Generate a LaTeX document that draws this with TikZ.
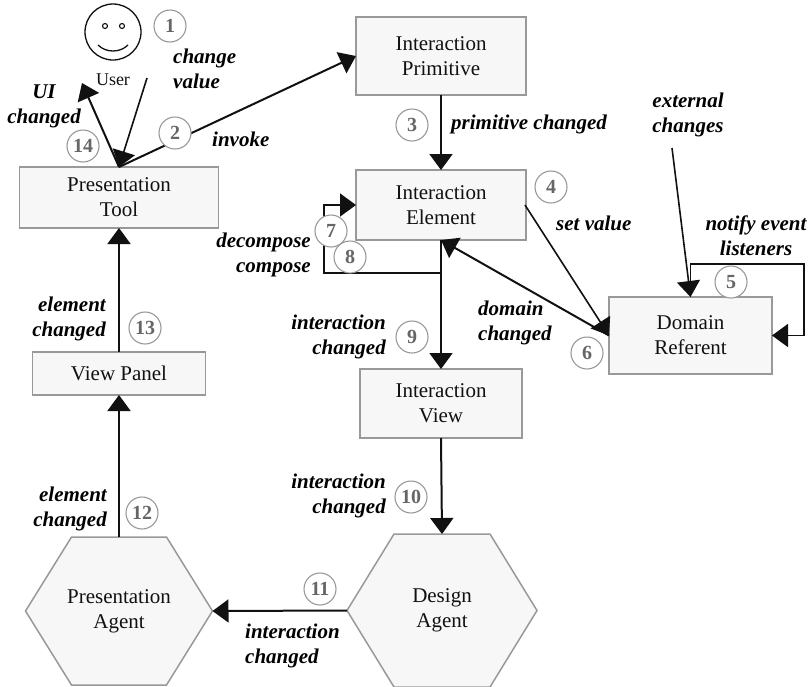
\documentclass[tikz,border=0pt]{standalone}
\usepackage{fontspec}
\setmainfont{Liberation Serif}
\usetikzlibrary{arrows.meta,backgrounds}
\definecolor{boxfill}{HTML}{F7F7F7}
\definecolor{boxline}{HTML}{999999}
\definecolor{numgrey}{HTML}{666666}
\definecolor{ink}{HTML}{111111}
\tikzset{
  x=1pt,y=-1pt,
  tip/.tip={Triangle[length=16pt,width=23pt]},
  conn/.style={draw=ink,line width=2pt,-tip},
  thinconn/.style={draw=ink,line width=1.6pt,-tip},
  boxbase/.style={inner sep=0pt,outer sep=0pt,align=center,text=ink,font=\fontsize{21}{25}\selectfont},
  hexoutline/.style={draw=boxline,fill=boxfill,line width=1.5pt,line join=miter},
  wbox/.style n args={2}{boxbase,draw=boxline,fill=boxfill,line width=1.5pt,rectangle,minimum width=#1pt,minimum height=#2pt},
  hexnode/.style n args={2}{boxbase,rectangle,minimum width=#1pt,minimum height=#2pt},
  lab/.style={inner sep=0pt,text=black,font=\fontsize{21}{25}\selectfont\bfseries\itshape},
  labL/.style={lab,anchor=west,align=left},
  labR/.style={lab,anchor=east,align=right},
  labC/.style={lab,anchor=center,align=center},
  num/.style={circle,draw=boxline,fill=white,line width=1.1pt,minimum size=32pt,inner sep=0pt,text=numgrey,
    font=\fontsize{20}{20}\selectfont\bfseries},
}
\begin{document}
\begin{tikzpicture}
\useasboundingbox (0,0) rectangle (808,686);
% boxes
\node[wbox={170}{78}] (prim) at (441,56) {Interaction\\Primitive};
\node[wbox={199}{61}] (tool) at (119,197.5) {Presentation\\Tool};
\node[wbox={170}{70}] (elem) at (441,205) {Interaction\\Element};
\node[wbox={162}{69}] (view) at (441,403.5) {Interaction\\View};
\node[wbox={173}{43}] (panel) at (119,373.5) {View Panel};
\node[wbox={163}{77}] (domain) at (690.5,335.5) {Domain\\Referent};
\node[hexnode={187}{148}] (pagent) at (119,611) {Presentation\\Agent};
\node[hexnode={190}{153}] (dagent) at (442,610.5) {Design\\Agent};
\begin{scope}[on background layer]
\draw[hexoutline] (pagent.west) -- ([xshift=46pt]pagent.north west) -- ([xshift=-46pt]pagent.north east) -- (pagent.east)
  -- ([xshift=-46pt]pagent.south east) -- ([xshift=46pt]pagent.south west) -- cycle;
\draw[hexoutline] (dagent.west) -- ([xshift=47pt]dagent.north west) -- ([xshift=-47pt]dagent.north east) -- (dagent.east)
  -- ([xshift=-47pt]dagent.south east) -- ([xshift=47pt]dagent.south west) -- cycle;
\end{scope}
% user
\node[circle,draw=ink,line width=1.3pt,minimum size=56pt,inner sep=0pt] (face) at (113,32) {};
\node[circle,draw=ink,line width=1.1pt,minimum size=5pt,inner sep=0pt] (eyeL) at (105,26) {};
\node[circle,draw=ink,line width=1.1pt,minimum size=5pt,inner sep=0pt] (eyeR) at (122,26) {};
\coordinate (smileL) at (98,45);
\coordinate (smileR) at (128,45);
\draw[draw=ink,line width=1.3pt] (smileL) .. controls (106,53) and (120,53) .. (smileR);
\node[inner sep=0pt,text=ink,font=\fontsize{18}{20}\selectfont] (user) at (113,80) {User};
% free ends
\coordinate (uiEnd) at (82,83);
\coordinate (changeStart) at (147,78);
\coordinate (extStart) at (672,148);
\coordinate (junction) at (441,273);
\coordinate (loopA) at (324,273);
\coordinate (loopB) at (324,205);
\coordinate (notA) at (690.5,264);
\coordinate (notB) at (804,264);
\coordinate (notC) at (804,335.5);
\coordinate (setStart) at (525,205);
% connectors
\draw[conn] (tool.north) -- (uiEnd);
\draw[thinconn] (changeStart) -- (tool.north);
\draw[conn] (tool.north) -- (prim.west);
\draw[conn] (prim.south) -- (elem.north);
\draw[conn] (elem.south) -- (view.north);
\draw[thinconn] (junction) -- (loopA) -- (loopB) -- (elem.west);
\draw[conn] (domain.west) -- (elem.south);
\draw[thinconn] (setStart) -- (domain.west);
\draw[thinconn] (extStart) -- (domain.north);
\draw[thinconn] (domain.north) -- (notA) -- (notB) -- (notC) -- (domain.east);
\draw[conn] (view.south) -- (dagent.north);
\draw[conn] (dagent.west) -- (pagent.east);
\draw[conn] (pagent.north) -- (panel.south);
\draw[conn] (panel.north) -- (tool.south);
% numbers
\node[num] (n1) at (170,26) {1};
\node[num] (n2) at (175,133) {2};
\node[num] (n3) at (412,125) {3};
\node[num] (n4) at (551,187) {4};
\node[num] (n5) at (731,282) {5};
\node[num] (n6) at (587,353) {6};
\node[num] (n8) at (350,257) {8};
\node[num] (n7) at (331,231) {7};
\node[num] (n9) at (412,337) {9};
\node[num] (n10) at (411,497) {10};
\node[num] (n11) at (320,589) {11};
\node[num] (n12) at (142,513) {12};
\node[num] (n13) at (145,328) {13};
\node[num] (n14) at (83,146) {14};
% labels
\node[labL] (l1) at (173,68.5) {change\\value};
\node[labC] (l2) at (44,106.5) {UI\\changed};
\node[labL] (l3) at (212,139) {invoke};
\node[labL] (l4) at (451,124) {primitive changed};
\node[labL] (l5) at (556,223) {set value};
\node[labC] (l6) at (688,114.5) {external\\changes};
\node[labC] (l7) at (756,236) {notify event\\listeners};
\node[labL] (l8) at (478,322.5) {domain\\changed};
\node[labR] (l9) at (311,254.5) {decompose\\compose};
\node[labR] (l10) at (386,336.5) {interaction\\changed};
\node[labR] (l11) at (106,318.5) {element\\changed};
\node[labR] (l12) at (107,508.5) {element\\changed};
\node[labR] (l13) at (386,495.5) {interaction\\changed};
\node[labL] (l14) at (245,645.5) {interaction\\changed};
\end{tikzpicture}
\end{document}
